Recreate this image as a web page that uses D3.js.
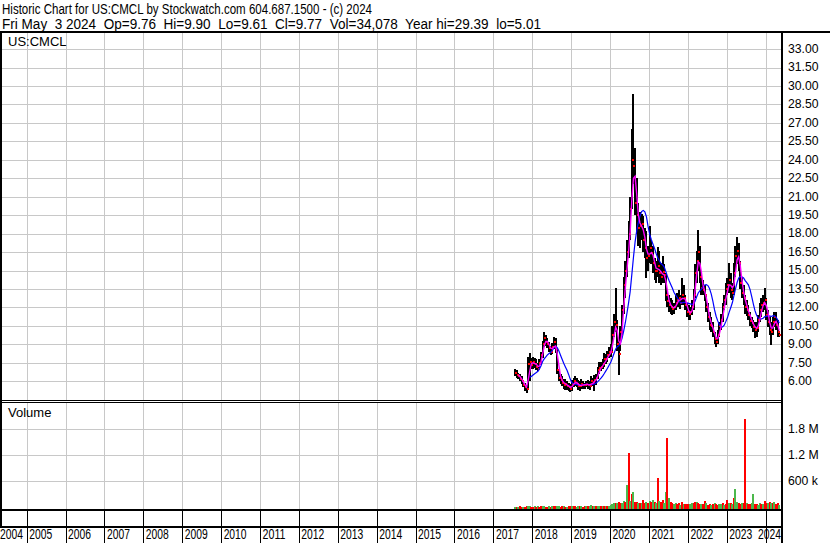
<!DOCTYPE html>
<html><head><meta charset="utf-8">
<script src="https://cdn.jsdelivr.net/npm/d3@7"></script>
<style>
html,body{margin:0;padding:0;background:#fff;}
svg{display:block;font-family:"Liberation Sans",Arial,sans-serif;}
</style></head><body>
<svg id="c" width="830" height="543"></svg>
<script>
// ---------------- data (half-month bars, first = 2nd half of July 2017) ----------------
const titleLine1 = "Historic Chart for US:CMCL by Stockwatch.com 604.687.1500 - (c) 2024";
const titleLine2 = "Fri May  3 2024  Op=9.76  Hi=9.90  Lo=9.61  Cl=9.77  Vol=34,078  Year hi=29.39  lo=5.01";
const symbolLabel = "US:CMCL";
const volumeLabel = "Volume";
const yearLabels = d3.range(2004, 2025);
const priceTicks = [6,7.5,9,10.5,12,13.5,15,16.5,18,19.5,21,22.5,24,25.5,27,28.5,30,31.5,33];
const volTicks = [600000, 1200000, 1800000];
const volTickLabels = ["600 k", "1.2 M", "1.8 M"];

const high = [
 7.0,6.9,6.7,6.6,6.4,6.1,5.9,5.7,8.0,8.3,7.9,
 8.0,7.9,7.8,7.5,7.8,8.4,9.3,10.0,9.8,9.5,9.2,8.9,9.1,9.6,9.5,8.6,7.0,6.6,6.4,6.2,6.2,6.0,5.9,5.8,
 6.1,6.3,6.4,6.3,6.1,6.0,6.2,6.0,5.9,6.0,6.1,6.0,6.4,6.3,6.5,6.6,7.2,7.6,7.6,7.8,8.3,8.2,8.5,8.8,
 9.0,10.5,11.5,13.6,11.0,9.5,10.5,12.2,14.5,15.8,17.5,19.0,21.0,26.5,29.39,25.0,22.5,20.5,19.8,19.6,19.4,18.5,18.2,17.0,
 18.6,17.5,17.0,16.0,15.8,16.9,16.6,15.6,16.2,15.5,14.8,13.5,13.0,12.8,12.6,12.4,13.0,13.2,13.4,13.0,14.4,13.8,13.0,12.4,
 12.2,12.0,12.6,13.5,15.5,16.6,18.3,17.0,14.8,14.2,13.8,13.0,12.4,11.6,11.2,10.8,10.0,9.6,10.2,10.8,11.5,12.4,13.0,14.0,
 14.4,15.6,14.8,14.0,15.6,17.0,17.7,17.2,15.8,14.5,13.8,13.0,12.6,12.2,11.6,11.2,11.0,10.8,10.8,11.4,12.4,12.8,13.0,13.6,
 12.8,11.8,11.2,10.8,11.2,11.6,11.6,11.0,9.9
];
const low = [
 6.4,6.3,6.2,6.0,5.8,5.5,5.2,5.05,5.3,6.0,7.0,
 7.0,7.1,6.9,6.8,7.0,7.3,7.9,8.8,8.9,8.7,8.4,8.1,8.2,8.6,8.3,6.6,6.0,5.8,5.6,5.4,5.3,5.3,5.2,5.1,
 5.2,5.5,5.6,5.5,5.3,5.2,5.4,5.4,5.4,5.5,5.4,5.3,5.5,5.6,5.2,5.7,6.2,6.6,6.8,7.0,7.2,7.4,7.6,7.9,
 8.0,8.3,9.6,10.0,8.5,6.5,8.5,9.8,11.5,12.8,14.5,16.0,17.5,20.0,22.0,19.5,18.0,17.0,16.8,17.5,16.5,16.0,14.4,15.0,
 15.6,15.5,14.8,14.2,14.0,14.5,14.0,13.8,14.0,14.0,12.5,12.0,11.6,11.5,11.4,11.5,11.8,12.0,12.0,11.9,12.2,12.2,11.8,11.2,
 11.0,11.0,11.4,11.8,12.8,14.0,15.0,14.0,13.0,13.0,12.5,11.6,10.8,10.2,10.0,9.6,9.0,8.8,9.0,9.6,10.2,10.8,11.8,12.2,
 13.0,13.2,12.8,12.6,13.0,14.5,15.5,15.0,13.5,12.8,12.2,11.5,11.3,11.0,10.5,10.3,10.0,9.5,9.6,10.0,10.8,11.2,11.6,11.8,
 11.0,10.4,9.8,8.95,9.8,10.4,10.2,9.6,9.61
];
const close = [
 6.7,6.5,6.4,6.2,6.0,5.7,5.5,5.4,7.4,7.6,7.3,
 7.6,7.4,7.2,7.0,7.5,8.1,9.0,9.5,9.2,9.0,8.7,8.4,8.8,9.2,8.6,6.9,6.3,6.1,5.9,5.7,5.8,5.6,5.5,5.4,
 5.8,6.0,5.9,5.8,5.6,5.6,5.8,5.7,5.7,5.8,5.7,5.6,6.0,5.9,6.1,6.3,6.9,7.1,7.2,7.4,7.8,7.8,8.1,8.4,
 8.4,9.8,10.8,10.6,9.0,8.2,10.0,11.8,13.8,15.0,16.5,18.0,20.0,24.0,23.5,20.5,19.5,18.5,18.6,18.8,17.5,16.8,16.0,16.2,
 16.8,16.4,15.6,15.0,15.0,15.4,14.8,14.5,14.9,14.6,13.0,12.5,12.2,12.0,11.9,12.0,12.4,12.6,12.8,12.4,13.0,12.8,12.2,11.6,
 11.5,11.6,12.0,13.0,14.8,15.8,16.5,14.5,13.6,13.4,13.0,12.0,11.2,10.6,10.5,10.0,9.4,9.2,9.8,10.5,11.0,12.0,12.6,13.5,
 13.8,14.2,13.4,13.2,14.8,16.2,16.6,15.6,14.0,13.2,12.8,12.0,11.8,11.4,10.9,10.7,10.4,10.2,10.3,11.0,11.8,12.2,12.4,12.6,
 11.4,10.8,10.2,10.0,10.8,11.2,10.6,10.0,9.77
];
const volumeK = [
 8,10,6,12,8,10,6,14,18,12,8,
 10,14,8,12,10,16,14,12,10,8,12,10,14,16,12,18,14,10,12,16,10,8,14,12,
 12,16,14,10,18,12,14,10,12,16,22,14,50,18,22,16,24,20,28,18,24,20,16,26,
 50,70,85,100,90,110,85,95,145,123,508,1240,140,300,353,120,110,90,100,85,162,95,110,90,
 140,110,160,120,100,662,130,110,162,100,353,1600,200,120,85,70,100,60,85,50,110,70,60,80,
 80,60,90,100,123,110,90,70,60,70,138,85,50,60,45,70,85,60,50,70,60,85,50,70,
 162,85,100,70,200,408,120,85,70,100,85,2030,100,70,60,85,293,70,60,50,85,60,70,138,
 100,85,120,100,85,110,70,85,40
];
const volumeColorCodes =
 "grgrrgrrggr" +
 "rgrgrrggrrgrgrrggrrgrgrr" +
 "grrggrgrrgrggrgrggrgrgrg" +
 "gggrgrrggrgrgrgrrgrgrrgr" +
 "grgrgrgrrggrgrrggrrgrgrr" +
 "rggrrgrrgrrgrrgrgrrggrgr" +
 "rgrgrggrrgrrgrrggrrggrgr" +
 "rgrgrgrrg";

// ---------------- layout ----------------
const W = 830, H = 543;
const plotL = 2, plotR = 781;
const priceTop = 33, priceBot = 400;
const volTop = 403, volBot = 509;
const stripBot = 526;

const dates = high.map((_, i) => { const k = i + 1; return new Date(2017, 6 + Math.floor(k / 2), k % 2 === 0 ? 8 : 23); });
const bars = high.map((h, i) => ({ d: dates[i], h, l: low[i], c: close[i], v: volumeK[i] * 1000, up: volumeColorCodes[i] === "g" }));

function sma(arr, n) { return arr.map((v, i) => i < n - 1 ? null : d3.mean(arr.slice(i - n + 1, i + 1))); }
const maShort = sma(close, 3), maLong = sma(close, 10);

const x = d3.scaleTime().domain([new Date(2004, 0, 1), new Date(2025, 0, 1)]).range([-12.3, 804.6]);
const y = d3.scaleLinear().domain([6, 33]).range([381.3, 49.1]);
const yv = d3.scaleLinear().domain([0, 2400000]).range([507, 403]);

const svg = d3.select("#c");
svg.append("rect").attr("width", W).attr("height", H).attr("fill", "#fff");

const defs = svg.append("defs");
defs.append("clipPath").attr("id", "cp").append("rect").attr("x", plotL).attr("y", priceTop).attr("width", plotR - plotL).attr("height", priceBot - priceTop);
defs.append("clipPath").attr("id", "cv").append("rect").attr("x", plotL).attr("y", volTop).attr("width", plotR - plotL).attr("height", volBot - volTop);

const grid = "#c8c8c8";
const yearDates = yearLabels.map(yy => new Date(yy, 0, 1));

// grids
const g = svg.append("g").attr("shape-rendering", "crispEdges");
yearDates.forEach(d => {
  const xx = Math.round(x(d)) + 0.5;
  if (xx < plotL || xx > plotR) return;
  g.append("line").attr("x1", xx).attr("x2", xx).attr("y1", priceTop).attr("y2", priceBot).attr("stroke", grid);
  g.append("line").attr("x1", xx).attr("x2", xx).attr("y1", volTop).attr("y2", volBot).attr("stroke", grid);
  g.append("line").attr("x1", xx).attr("x2", xx).attr("y1", volBot).attr("y2", H).attr("stroke", "#000");
});
priceTicks.forEach(t => {
  const yy = Math.round(y(t)) + 0.5;
  g.append("line").attr("x1", plotL).attr("x2", plotR).attr("y1", yy).attr("y2", yy).attr("stroke", grid);
});
volTicks.forEach(t => {
  const yy = Math.round(yv(t)) + 0.5;
  g.append("line").attr("x1", plotL).attr("x2", plotR).attr("y1", yy).attr("y2", yy).attr("stroke", grid);
});

// price bars
const pg = svg.append("g").attr("clip-path", "url(#cp)").attr("shape-rendering", "crispEdges");
pg.selectAll("rect.bar").data(bars).join("rect").attr("class", "bar")
  .attr("x", d => x(d.d) - 1).attr("width", 2)
  .attr("y", d => y(d.h)).attr("height", d => Math.max(1, y(d.l) - y(d.h))).attr("fill", "#000");
pg.selectAll("rect.cl").data(bars).join("rect").attr("class", "cl")
  .attr("x", d => x(d.d)).attr("width", 2)
  .attr("y", d => y(d.c) - 1).attr("height", 2).attr("fill", "#ff0000");

const lineGen = arr => d3.line().defined((d, i) => arr[i] != null).x((d, i) => x(dates[i])).y((d, i) => y(arr[i]));
const lg = svg.append("g").attr("clip-path", "url(#cp)");
lg.append("path").datum(bars).attr("d", lineGen(maLong)).attr("fill", "none").attr("stroke", "#0000ff").attr("stroke-width", 1.2);
lg.append("path").datum(bars).attr("d", lineGen(maShort)).attr("fill", "none").attr("stroke", "#ff00ff").attr("stroke-width", 1.4);

// volume
const vg = svg.append("g").attr("clip-path", "url(#cv)").attr("shape-rendering", "crispEdges");
vg.selectAll("rect").data(bars).join("rect")
  .attr("x", d => x(d.d) - 1).attr("width", 2)
  .attr("y", d => yv(d.v)).attr("height", d => volBot - yv(d.v))
  .attr("fill", d => d.up ? "#4cb84c" : "#ff0000");

// frame lines
const f = svg.append("g").attr("shape-rendering", "crispEdges");
f.append("rect").attr("x", 0).attr("y", 31).attr("width", W).attr("height", 2).attr("fill", "#000");
f.append("rect").attr("x", 0).attr("y", 33).attr("width", 2).attr("height", stripBot - 33).attr("fill", "#000");
f.append("rect").attr("x", plotR).attr("y", 33).attr("width", 2).attr("height", H - 33).attr("fill", "#000");
f.append("rect").attr("x", 0).attr("y", priceBot).attr("width", plotR + 2).attr("height", 1).attr("fill", "#000");
f.append("rect").attr("x", 0).attr("y", volTop - 1).attr("width", plotR).attr("height", 1).attr("fill", "#000");
f.append("rect").attr("x", 0).attr("y", volBot).attr("width", plotR).attr("height", 2).attr("fill", "#000");
f.append("rect").attr("x", 0).attr("y", stripBot).attr("width", plotR).attr("height", 2).attr("fill", "#000");

// texts
function squeeze(sel, ratio) {
  sel.each(function () { const n = this.getComputedTextLength(); d3.select(this).attr("textLength", n * ratio).attr("lengthAdjust", "spacingAndGlyphs"); });
}
const t1 = svg.append("text").attr("x", 2).attr("y", 14).attr("font-size", 14).attr("xml:space", "preserve").style("white-space", "pre").text(titleLine1);
t1.attr("textLength", 370).attr("lengthAdjust", "spacingAndGlyphs");
const t2 = svg.append("text").attr("x", 2).attr("y", 29).attr("font-size", 14).attr("xml:space", "preserve").style("white-space", "pre").text(titleLine2);
t2.attr("textLength", 539).attr("lengthAdjust", "spacingAndGlyphs");

svg.append("text").attr("x", 8).attr("y", 46).attr("font-size", 13).text(symbolLabel);
svg.append("text").attr("x", 8).attr("y", 417).attr("font-size", 13).text(volumeLabel);

const pl = svg.append("g").selectAll("text").data(priceTicks).join("text")
  .attr("x", 788).attr("y", d => y(d) + 3.8).attr("font-size", 13).text(d => d.toFixed(2));
squeeze(pl, 0.94);
const vl = svg.append("g").selectAll("text").data(volTicks).join("text")
  .attr("x", 788).attr("y", d => yv(d) + 4.2).attr("font-size", 13).text((d, i) => volTickLabels[i]);
squeeze(vl, 0.94);

// year labels: left-aligned after each year line, kept inside the strip without overlapping
const labW = 23;
let prevEnd = -Infinity;
const yearPos = yearLabels.map((yy, i) => {
  let xx = x(yearDates[i]) + 2.5;
  if (i === 0) xx = 0;
  xx = Math.max(xx, prevEnd + 2);
  if (xx + labW > plotR) xx = plotR - labW;
  prevEnd = xx + labW;
  return xx;
});
svg.append("g").selectAll("text").data(yearLabels).join("text")
  .attr("x", (d, i) => yearPos[i])
  .attr("y", 539).attr("font-size", 14).attr("textLength", labW).attr("lengthAdjust", "spacingAndGlyphs")
  .text(d => d);
</script>
</body></html>
